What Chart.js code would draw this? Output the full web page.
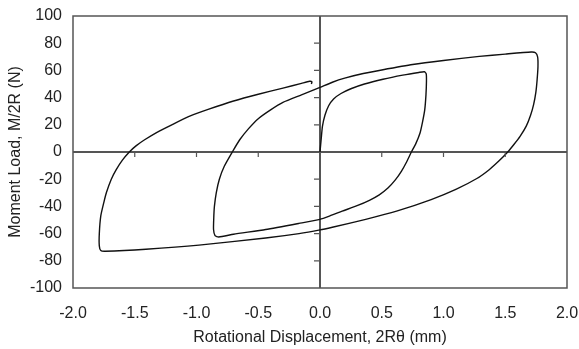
<!DOCTYPE html>
<html>
<head>
<meta charset="utf-8">
<script src="https://cdn.jsdelivr.net/npm/chart.js@4.4.1/dist/chart.umd.min.js"></script>
<style>
  html, body { margin: 0; padding: 0; background: #fff; }
  #wrap { width: 579px; height: 349px; }
</style>
</head>
<body>
<div id="wrap"><canvas id="c"></canvas></div>
<script>
// hysteresis path (x in mm, y in N)
var dispX = [
  0, 0.01, 0.02, 0.04, 0.07, 0.11, 0.17, 0.25, 0.36, 0.51, 0.67, 0.80, 0.845, 0.86, 0.862, 0.858, 0.848, 0.83, 0.81, 0.775,
  0.74, 0.70, 0.66, 0.61, 0.55, 0.48, 0.40, 0.30, 0.18, 0.08, 0, -0.17, -0.44, -0.7, -0.82, -0.85, -0.862, -0.86, -0.855, -0.84,
  -0.815, -0.775, -0.71, -0.65, -0.58, -0.5, -0.4, -0.3, -0.15, 0, 0.1, 0.2, 0.35, 0.5, 0.75, 1.0, 1.29, 1.5, 1.71, 1.745,
  1.762, 1.765, 1.758, 1.748, 1.73, 1.705, 1.67, 1.62, 1.57, 1.52, 1.45, 1.37, 1.27, 1.1, 0.9, 0.62, 0.37, 0.1, 0, -0.17,
  -0.44, -0.98, -1.41, -1.74, -1.775, -1.787, -1.787, -1.775, -1.75, -1.73, -1.69, -1.65, -1.6, -1.544, -1.49, -1.42, -1.32, -1.2, -1.05, -0.9,
  -0.7, -0.5, -0.3, -0.15, -0.085, -0.065, -0.07
];
var loadY = [
  0, 10, 19, 27, 34, 39, 43, 46.5, 50, 53.5, 56.5, 58.5, 59, 57.5, 52, 42, 31, 22, 14, 6,
  0, -7.5, -14, -20.5, -26.5, -31.5, -35.5, -39.5, -43.5, -47, -49.5, -52.5, -57, -60.5, -62.5, -61.5, -57, -48, -40, -30,
  -20, -10.5, 0, 9, 17, 24.5, 31, 36.5, 42, 47.5, 51.3, 54.3, 57.7, 60.3, 64.3, 67.3, 70.3, 72, 73.5, 73,
  70, 63, 53, 44, 35, 27, 19, 11.5, 5.5, 0, -6.5, -13, -19.5, -27.5, -35, -43.5, -49.5, -55.3, -57.3, -60,
  -63.2, -68.5, -71.5, -73, -72.5, -69, -60, -47, -37, -30, -20, -13, -6, 0, 4.5, 9, 14.5, 20, 26.5, 31.5,
  37.5, 42.5, 47, 50.5, 52, 51.5, 50
];
var xTitle = 'Rotational Displacement, 2R\u03b8 (mm)';
var yTitle = 'Moment Load, M/2R (N)';

var points = dispX.map(function(x, i) { return { x: x, y: loadY[i] }; });

var textColor = '#222';
var axisColor = '#555';

// frame round the plot and small ticks on the zero lines
var framePlugin = {
  id: 'frame',
  afterDatasetsDraw: function(chart) {
    var ctx = chart.ctx, a = chart.chartArea;
    var xs = chart.scales.x, ys = chart.scales.y;
    var x0 = xs.getPixelForValue(0), y0 = ys.getPixelForValue(0);
    ctx.save();
    ctx.strokeStyle = axisColor;
    ctx.lineWidth = 1.5;
    ctx.strokeRect(a.left, a.top, a.right - a.left, a.bottom - a.top);
    ctx.lineWidth = 1.2;
    ctx.beginPath();
    xs.ticks.forEach(function(t) {
      if (t.value === 0 || t.value === xs.min || t.value === xs.max) return;
      var px = xs.getPixelForValue(t.value);
      ctx.moveTo(px, y0);
      ctx.lineTo(px, y0 + 5);
    });
    ys.ticks.forEach(function(t) {
      if (t.value === 0 || t.value === ys.min || t.value === ys.max) return;
      var py = ys.getPixelForValue(t.value);
      ctx.moveTo(x0, py);
      ctx.lineTo(x0 - 6, py);
    });
    ctx.stroke();
    ctx.restore();
  }
};

function zeroLine(c) {
  return c.tick && c.tick.value === 0 ? axisColor : 'rgba(0,0,0,0)';
}

new Chart(document.getElementById('c'), {
  type: 'scatter',
  data: {
    datasets: [{
      data: points,
      showLine: true,
      borderColor: '#111',
      borderWidth: 1.4,
      pointRadius: 0,
      tension: 0.2,
      fill: false
    }]
  },
  options: {
    responsive: true,
    maintainAspectRatio: false,
    animation: false,
    layout: { padding: { top: 16, right: 12, left: 0, bottom: 0 } },
    plugins: {
      legend: { display: false },
      tooltip: { enabled: false }
    },
    scales: {
      x: {
        type: 'linear',
        min: -2,
        max: 2,
        ticks: {
          stepSize: 0.5,
          padding: 16,
          color: textColor,
          font: { family: 'Liberation Sans', size: 16 },
          callback: function(v) { return v.toFixed(1); }
        },
        grid: { drawTicks: false, color: zeroLine, lineWidth: 2 },
        border: { display: false },
        title: {
          display: true,
          text: xTitle,
          color: textColor,
          font: { family: 'Liberation Sans', size: 16 },
          padding: { top: 0, bottom: 2 }
        },
        afterFit: function(s) {
          s.height = 61;
          s.paddingLeft = 0;
          s.paddingRight = 0;
        }
      },
      y: {
        type: 'linear',
        min: -100,
        max: 100,
        ticks: {
          stepSize: 20,
          padding: 11,
          color: textColor,
          font: { family: 'Liberation Sans', size: 16 }
        },
        grid: { drawTicks: false, color: zeroLine, lineWidth: 2 },
        border: { display: false },
        title: {
          display: true,
          text: yTitle,
          color: textColor,
          font: { family: 'Liberation Sans', size: 16 },
          padding: { top: 6, bottom: 0 }
        },
        afterFit: function(s) {
          s.width = 73;
          s.paddingTop = 0;
          s.paddingBottom = 0;
        }
      }
    }
  },
  plugins: [framePlugin]
});
</script>
</body>
</html>
